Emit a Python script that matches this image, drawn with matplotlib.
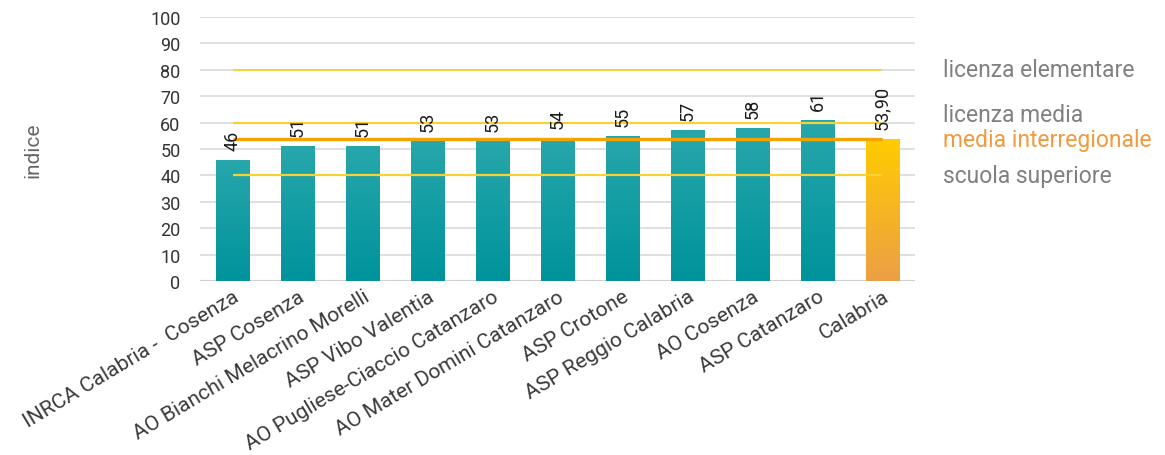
import matplotlib
matplotlib.use("Agg")
import matplotlib.pyplot as plt
import numpy as np
from matplotlib.colors import LinearSegmentedColormap

plt.rcParams['font.family'] = ['Roboto', 'DejaVu Sans']

categories = ["INRCA Calabria -  Cosenza", "ASP Cosenza", "AO Bianchi Melacrino Morelli",
              "ASP Vibo Valentia", "AO Pugliese-Ciaccio Catanzaro", "AO Mater Domini Catanzaro",
              "ASP Crotone", "ASP Reggio Calabria", "AO Cosenza", "ASP Catanzaro", "Calabria"]
values = [45.9, 51.2, 51.2, 53.1, 53.1, 54.3, 55.0, 57.2, 58.0, 61.0, 53.9]
value_labels = ["46", "51", "51", "53", "53", "54", "55", "57", "58", "61", "53,90"]

ref_names = ["licenza elementare", "licenza media", "media interregionale", "scuola superiore"]
ref_values = [80, 60, 53.6, 40]
ref_text_y = [80, 63, 53.6, 40]

fig = plt.figure(figsize=(11.65, 4.56), dpi=100)
ax = fig.add_axes([0.1717, 0.3816, 0.6137, 0.5789])

x = np.arange(len(categories))
bars = ax.bar(x, values, width=0.52, color='none', edgecolor='none', zorder=2)

teal = LinearSegmentedColormap.from_list('teal', ['#00939C', '#27A7AB'])
gold = LinearSegmentedColormap.from_list('gold', ['#ED9F45', '#FFCC00'])
grad = np.linspace(0, 1, 256).reshape(-1, 1)
for i, b in enumerate(bars):
    cmap = gold if i == len(bars) - 1 else teal
    x0, w, h = b.get_x(), b.get_width(), b.get_height()
    im = ax.imshow(grad, cmap=cmap, origin='lower', aspect='auto',
                   extent=[x0, x0 + w, 0, h], zorder=2)
    im.set_clip_path(b)

for i, (v, lab) in enumerate(zip(values, value_labels)):
    ax.annotate(lab, (x[i], v), xytext=(0, 7), textcoords='offset points',
                rotation=90, ha='center', va='bottom', fontsize=13, color='#1a1a1a', zorder=5)

ref_colors = ['#F7D234', '#F7D234', '#F5A300', '#F7D234']
ref_widths = [1.3, 1.6, 2.4, 1.6]
for rv, c, lw in zip(ref_values, ref_colors, ref_widths):
    ax.plot([x[0], x[-1]], [rv, rv], color=c, lw=lw, zorder=3, solid_capstyle='butt')

text_colors = ['#808080', '#808080', '#F29A3D', '#808080']
for name, ty, c in zip(ref_names, ref_text_y, text_colors):
    ax.text(1.039, ty, name, transform=ax.get_yaxis_transform(), ha='left', va='center',
            fontsize=16.5, color=c)

ax.set_xlim(-0.5, len(categories) - 0.5)
ax.set_ylim(0, 100)
ax.set_yticks(np.arange(0, 101, 10))
ax.yaxis.grid(True, color='#D9D9D9', lw=1.2, zorder=0)
ax.set_axisbelow(True)
for s in ax.spines.values():
    s.set_visible(False)
ax.axhline(0, color='#D0D0D0', lw=1.5, zorder=1)
ax.tick_params(axis='y', length=0, pad=14, labelsize=13, labelcolor='#333333')
ax.tick_params(axis='x', length=0, pad=4, labelsize=15.2, labelcolor='#3a3a3a')
ax.set_xticks(x)
ax.set_xticklabels(categories, rotation=31, ha='right', rotation_mode='anchor')
fig.text(33 / 1165, 1 - 150 / 456, 'indice', rotation=90, ha='center', va='center',
         fontsize=15, color='#666666')

fig.savefig('out.png', dpi=100)
